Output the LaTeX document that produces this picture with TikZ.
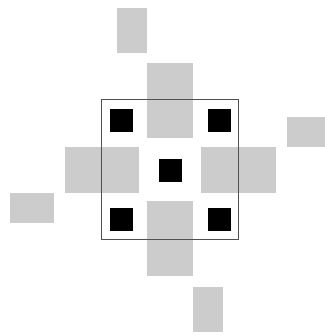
\documentclass[tikz,border=0pt]{standalone}
\usepackage{xcolor}
\usepackage{tikz}
\definecolor{lightgray}{RGB}{204, 204, 204}
\definecolor{framegray}{RGB}{80, 80, 80}

\begin{document}
\begin{tikzpicture}[
    x=1pt, y=-1pt,
    patch/.style={fill=lightgray, draw=none},
    dot/.style={fill=black, draw=none},
    frame/.style={draw=framegray, line width=1pt}
]
    \useasboundingbox (0,0) rectangle (324,336);

    % Grey patches
    \fill[patch] (117,8) rectangle (147,53);
    \fill[patch] (147,63) rectangle (193,138);
    \fill[patch] (287,117) rectangle (331,147);
    \fill[patch] (65,147) rectangle (139,193);
    \fill[patch] (201,147) rectangle (276,193);
    \fill[patch] (10,193) rectangle (54,223);
    \fill[patch] (147,201) rectangle (193,276);
    \fill[patch] (193,287) rectangle (223,332);

    % Frame
    \draw[frame] (101,100) rectangle (238,239);

    % Black squares
    \fill[dot] (110,109) rectangle (133,132);
    \fill[dot] (208,109) rectangle (231,132);
    \fill[dot] (159,159) rectangle (182,182);
    \fill[dot] (110,208) rectangle (133,231);
    \fill[dot] (208,208) rectangle (231,231);
\end{tikzpicture}
\end{document}
